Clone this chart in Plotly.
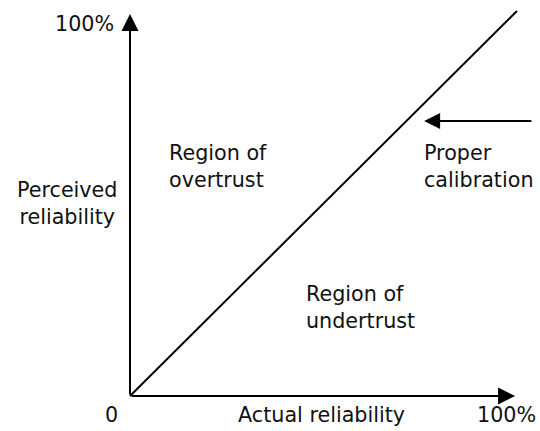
import plotly.graph_objects as go

# Data: proper calibration line (actual vs perceived reliability, %)
actual = [0, 100]
perceived = [0, 100]

# Axis extents (%) for the arrowed axes
x_axis_end = 99.5
y_axis_end = 99.2

# Text labels
tick_labels = {"origin": "0", "x_max": "100%", "y_max": "100%"}
x_title = "Actual reliability"
y_title = "Perceived<br>reliability"
over_label = "Region of<br>overtrust"
under_label = "Region of<br>undertrust"
calib_label = "Proper<br>calibration"

FONT = dict(family="DejaVu Sans, Verdana, sans-serif", size=20.7, color="#111111")
LINE = "#000000"

fig = go.Figure()
fig.add_trace(go.Scatter(x=actual, y=perceived, mode="lines",
                         line=dict(color=LINE, width=2), hoverinfo="skip",
                         showlegend=False))

ann = []
# axes as arrows
ann.append(dict(x=x_axis_end, y=0, ax=0, ay=0, xref="x", yref="y", axref="x", ayref="y",
                showarrow=True, arrowhead=2, arrowsize=1.7, arrowwidth=2, arrowcolor=LINE, text=""))
ann.append(dict(x=0, y=y_axis_end, ax=0, ay=0, xref="x", yref="y", axref="x", ayref="y",
                showarrow=True, arrowhead=2, arrowsize=1.7, arrowwidth=2, arrowcolor=LINE, text=""))
# calibration arrow
ann.append(dict(x=76.0, y=71.4, ax=104.1, ay=71.4, xref="x", yref="y", axref="x", ayref="y",
                showarrow=True, arrowhead=2, arrowsize=1.6, arrowwidth=2, arrowcolor=LINE, text=""))

def label(text, x, y, xanchor="center", align="center"):
    ann.append(dict(text=text, x=x, y=y, xref="x", yref="y", showarrow=False,
                    xanchor=xanchor, yanchor="middle", align=align, font=FONT))

label(tick_labels["y_max"], -3.6, 96.6, xanchor="right")
label(tick_labels["origin"], -4.9, -4.9)
label(x_title, 49.6, -4.9)
label(tick_labels["x_max"], 97.2, -4.9)
label(y_title, -16.3, 49.9)
label(over_label, 9.5, 59.5, xanchor="left", align="left")
label(under_label, 45.0, 23.0, xanchor="left", align="left")
label(calib_label, 75.4, 59.5, xanchor="left", align="left")

fig.update_layout(
    width=540, height=431,
    margin=dict(l=0, r=0, t=0, b=0),
    paper_bgcolor="white", plot_bgcolor="white",
    xaxis=dict(range=[-130 / 3.87, 410 / 3.87], visible=False, fixedrange=True),
    yaxis=dict(range=[-35 / 3.85, 396 / 3.85], visible=False, fixedrange=True),
    annotations=ann,
    showlegend=False,
)

fig.write_html("out.html", config={"displayModeBar": False},
               post_script="document.body.style.margin='0';document.body.style.overflow='hidden';")
